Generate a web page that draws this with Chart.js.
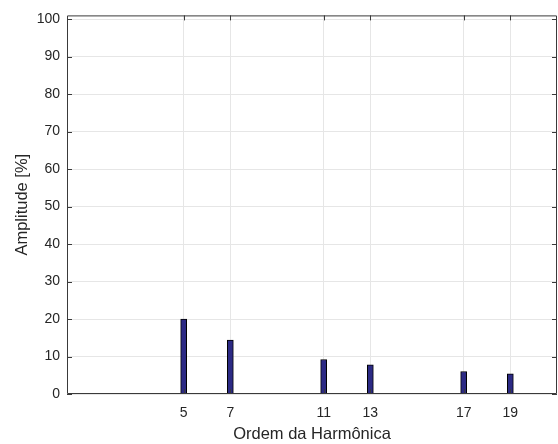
<!DOCTYPE html>
<html>
<head>
<meta charset="utf-8">
<script src="https://cdn.jsdelivr.net/npm/chart.js@4"></script>
<style>
html,body{margin:0;padding:0;background:#fff;}
#wrap{width:558px;height:444px;}
</style>
</head>
<body>
<div id="wrap"><canvas id="c" width="558" height="444"></canvas></div>
<script>
const harmonicOrders = [5, 7, 11, 13, 17, 19];
const amplitudes = [20.0, 14.4, 9.2, 7.8, 6.0, 5.4];
const xTicks = [5, 7, 11, 13, 17, 19];
const yTicks = [0, 10, 20, 30, 40, 50, 60, 70, 80, 90, 100];
const xTitle = 'Ordem da Harmônica';
const yTitle = 'Amplitude [%]';

const FONT = '"Liberation Sans", Arial, Helvetica, sans-serif';
const TXT = '#262626';

const innerTicks = {
  id: 'innerTicks',
  afterDraw(chart) {
    const {ctx, chartArea: a, scales} = chart;
    const x = scales.x, y = scales.y;
    ctx.save();
    ctx.strokeStyle = '#3a3a3a';
    ctx.lineWidth = 1;
    ctx.beginPath();
    ctx.rect(a.left + 0.5, a.top + 0.5, a.right - a.left - 1, a.bottom - a.top - 1);
    ctx.stroke();
    const L = 5;
    ctx.beginPath();
    xTicks.forEach(v => {
      const px = Math.round(x.getPixelForValue(v)) + 0.5;
      ctx.moveTo(px, a.bottom); ctx.lineTo(px, a.bottom - L);
      ctx.moveTo(px, a.top); ctx.lineTo(px, a.top + L);
    });
    yTicks.forEach(v => {
      const py = Math.round(y.getPixelForValue(v)) + 0.5;
      ctx.moveTo(a.left, py); ctx.lineTo(a.left + L, py);
      ctx.moveTo(a.right, py); ctx.lineTo(a.right - L, py);
    });
    ctx.stroke();
    ctx.restore();
  }
};

new Chart(document.getElementById('c'), {
  type: 'bar',
  data: {
    datasets: [{
      data: harmonicOrders.map((h, i) => ({x: h, y: amplitudes[i]})),
      backgroundColor: '#2c2a84',
      borderColor: '#000000',
      borderWidth: 1,
      barThickness: 6
    }]
  },
  options: {
    responsive: false,
    animation: false,
    devicePixelRatio: 1,
    layout: {padding: {top: 6, right: 1, left: 0, bottom: 0}},
    plugins: {legend: {display: false}, tooltip: {enabled: false}},
    scales: {
      x: {
        type: 'linear',
        min: 0, max: 21,
        offset: false,
        afterBuildTicks(s) { s.ticks = xTicks.map(v => ({value: v})); },
        afterFit(s) { s.height = 50; },
        grid: {color: '#e6e6e6', drawTicks: false, offset: false},
        border: {display: false},
        ticks: {color: TXT, font: {family: FONT, size: 14}, padding: 11, maxRotation: 0, autoSkip: false},
        title: {display: true, text: xTitle, color: TXT, font: {family: FONT, size: 16.5}, padding: {top: 0, bottom: 0}}
      },
      y: {
        type: 'linear',
        min: 0, max: 101,
        afterBuildTicks(s) { s.ticks = yTicks.map(v => ({value: v})); },
        afterFit(s) { s.width = 67; },
        grid: {color: '#e6e6e6', drawTicks: false},
        border: {display: false},
        ticks: {color: TXT, font: {family: FONT, size: 14}, padding: 7},
        title: {display: true, text: yTitle, color: TXT, font: {family: FONT, size: 16.5}, padding: {top: 13, bottom: 0}}
      }
    }
  },
  plugins: [innerTicks]
});
</script>
</body>
</html>
